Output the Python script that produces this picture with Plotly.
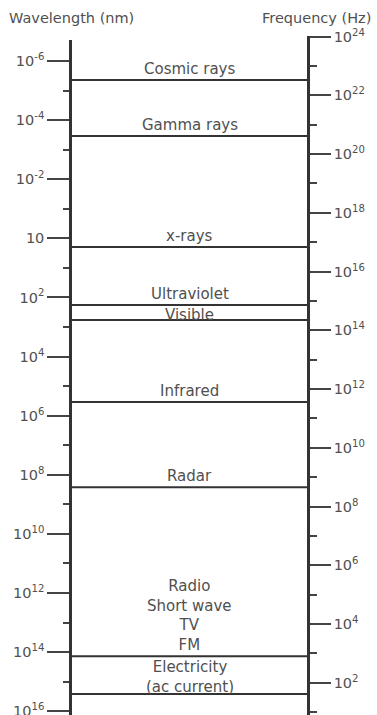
import plotly.graph_objects as go

# ---- data ----
# left axis: wavelength, log10(nm)
wavelength_major_exp = [-6, -4, -2, 0, 2, 4, 6, 8, 10, 12, 14, 16]
wavelength_major_text = ["10<sup>-6</sup>", "10<sup>-4</sup>", "10<sup>-2</sup>", "10",
                         "10<sup>2</sup>", "10<sup>4</sup>", "10<sup>6</sup>", "10<sup>8</sup>",
                         "10<sup>10</sup>", "10<sup>12</sup>", "10<sup>14</sup>", "10<sup>16</sup>"]
wavelength_minor_exp = [-5, -3, -1, 1, 3, 5, 7, 9, 11, 13, 15]

# right axis: frequency, log10(Hz)
frequency_major_exp = [24, 22, 20, 18, 16, 14, 12, 10, 8, 6, 4, 2]
frequency_major_text = ["10<sup>24</sup>", "10<sup>22</sup>", "10<sup>20</sup>", "10<sup>18</sup>",
                        "10<sup>16</sup>", "10<sup>14</sup>", "10<sup>12</sup>", "10<sup>10</sup>",
                        "10<sup>8</sup>", "10<sup>6</sup>", "10<sup>4</sup>", "10<sup>2</sup>"]
frequency_minor_exp = [23, 21, 19, 17, 15, 13, 11, 9, 7, 5, 3, 1]

# bands: name and lower (long-wavelength) edge in log10(nm)
band_names = ["Cosmic rays", "Gamma rays", "x-rays", "Ultraviolet", "Visible",
              "Infrared", "Radar", "Radio<br>Short wave<br>TV<br>FM",
              "Electricity<br>(ac current)"]
band_lower_edge = [-5.36, -3.46, 0.29, 2.26, 2.76, 5.54, 8.42, 14.14, 15.42]

# ---- styling ----
W, H = 377, 715
FONT = "DejaVu Sans"
TEXT = "#505050"
LINE = "#333333"
LABEL_SHIFT = {"Visible": -6, "Electricity<br>(ac current)": -4}

fig = go.Figure()

# band boundary lines
xs, ys = [], []
for e in band_lower_edge:
    xs += [0, 1, None]
    ys += [e, e, None]
fig.add_trace(go.Scatter(x=xs, y=ys, mode="lines", xaxis="x", yaxis="y",
                         line=dict(color=LINE, width=2), hoverinfo="skip",
                         showlegend=False, cliponaxis=False))
# invisible trace so the frequency axis is drawn
fig.add_trace(go.Scatter(x=[None], y=[None], xaxis="x", yaxis="y2",
                         mode="markers", showlegend=False, hoverinfo="skip"))

for name, e in zip(band_names, band_lower_edge):
    fig.add_annotation(x=0.5, y=e, xref="x", yref="y", text=name, showarrow=False,
                       xanchor="center", yanchor="bottom", yshift=LABEL_SHIFT.get(name, 0),
                       font=dict(family=FONT, size=15, color=TEXT))

fig.add_annotation(x=7 / W, y=1 - 18 / H, xref="paper", yref="paper",
                   text="Wavelength (nm)", showarrow=False, xanchor="left", yanchor="middle",
                   font=dict(family=FONT, size=14.5, color=TEXT))
fig.add_annotation(x=373 / W, y=1 - 18 / H, xref="paper", yref="paper",
                   text="Frequency (Hz)", showarrow=False, xanchor="right", yanchor="middle",
                   font=dict(family=FONT, size=14.5, color=TEXT))

fig.update_layout(
    width=W, height=H,
    margin=dict(l=0, r=0, t=0, b=0, autoexpand=False),
    paper_bgcolor="white", plot_bgcolor="rgba(0,0,0,0)",
    showlegend=False,
    xaxis=dict(domain=[72 / W, 307 / W], range=[0, 1], visible=False, fixedrange=True,
               automargin=False),
    yaxis=dict(domain=[0, 675 / H], range=[16.13, -6.711], anchor="x", side="left",
               automargin=False, ticklabeloverflow="allow",
               showgrid=False, zeroline=False, showline=True, linecolor=LINE, linewidth=2.5,
               tickmode="array", tickvals=wavelength_major_exp, ticktext=wavelength_major_text,
               ticks="outside", ticklen=22, tickwidth=1.5, tickcolor="#444444",
               tickfont=dict(family=FONT, size=14.5, color=TEXT),
               minor=dict(tickmode="array", tickvals=wavelength_minor_exp, ticks="outside",
                          ticklen=6, tickwidth=1.5, tickcolor="#444444"),
               fixedrange=True),
    yaxis2=dict(domain=[0, 679 / H], range=[0.905, 24.02], anchor="x", side="right",
                automargin=False, ticklabeloverflow="allow",
                showgrid=False, zeroline=False, showline=True, linecolor=LINE, linewidth=2.5,
                tickmode="array", tickvals=frequency_major_exp, ticktext=frequency_major_text,
                ticks="outside", ticklen=21, tickwidth=1.5, tickcolor="#444444",
                tickfont=dict(family=FONT, size=14.5, color=TEXT),
                minor=dict(tickmode="array", tickvals=frequency_minor_exp, ticks="outside",
                           ticklen=7, tickwidth=1.5, tickcolor="#444444"),
                fixedrange=True),
)

fig.write_html("out.html", config={"displayModeBar": False},
               post_script="document.body.style.margin='0';document.body.style.padding='0';")
